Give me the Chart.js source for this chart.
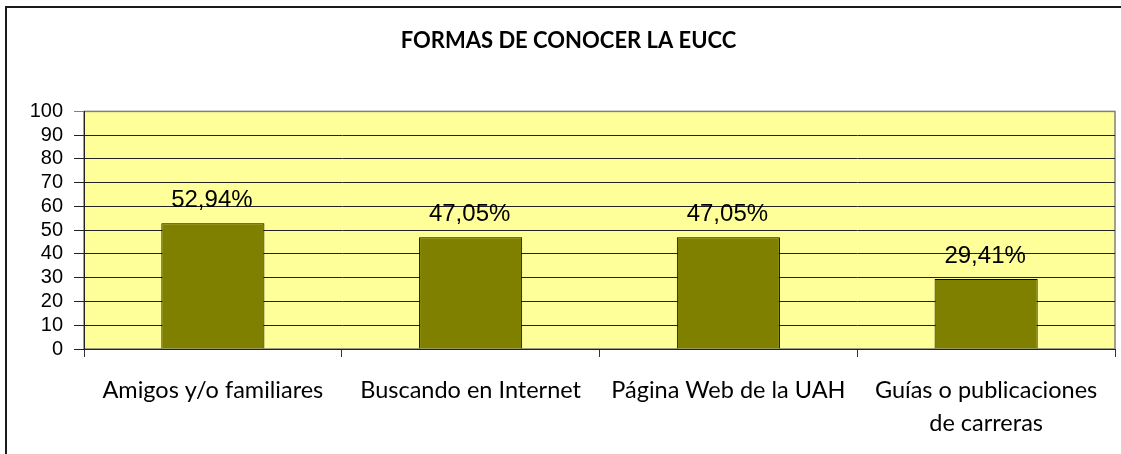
<!DOCTYPE html>
<html>
<head>
<meta charset="utf-8">
<script src="https://cdn.jsdelivr.net/npm/chart.js@4.4.0/dist/chart.umd.min.js"></script>
<style>
    body { margin: 0; overflow: hidden; background: #fff; }
    .linea { position: absolute; background: #1a1a1a; }
    #chart { position: absolute; left: 0; top: 0; }
</style>
</head>
<body>
<div class="linea" style="left:5px; top:6px; width:1200px; height:2px;"></div>
<div class="linea" style="left:5px; top:6px; width:2px; height:600px;"></div>
<canvas id="chart" width="1121" height="454"></canvas>
<script>
var categorias = [
    "Amigos y/o familiares",
    "Buscando en Internet",
    "Página Web de la UAH",
    ["Guías o publicaciones", "de carreras"]
];
var porcentajes = [52.94, 47.05, 47.05, 29.41];
var titulo = "FORMAS DE CONOCER LA EUCC";

// fondo amarillo del area de trazado
var fondoPlot = {
    id: "fondoPlot",
    beforeDraw: function(chart) {
        var a = chart.chartArea;
        var c = chart.ctx;
        c.save();
        c.fillStyle = "#FFFF99";
        c.fillRect(a.left, a.top, a.right - a.left, a.bottom - a.top);
        c.strokeStyle = "#808080";
        c.lineWidth = 1.5;
        c.strokeRect(a.left, a.top, a.right - a.left, a.bottom - a.top);
        c.restore();
    }
};

// etiquetas de valor sobre cada barra
var etiquetas = {
    id: "etiquetas",
    afterDatasetsDraw: function(chart) {
        var c = chart.ctx;
        var meta = chart.getDatasetMeta(0);
        c.save();
        c.font = "24px 'Liberation Sans', Arial, sans-serif";
        c.fillStyle = "#000";
        c.textAlign = "center";
        c.textBaseline = "alphabetic";
        meta.data.forEach(function(bar, i) {
            var txt = porcentajes[i].toFixed(2).replace(".", ",") + "%";
            c.fillText(txt, bar.x - 1, bar.y - 16);
        });
        c.restore();
    }
};

var ctx = document.getElementById("chart").getContext("2d");
var myChart = new Chart(ctx, {
    type: "bar",
    data: {
        labels: categorias,
        datasets: [{
            data: porcentajes,
            backgroundColor: "#808000",
            borderColor: "#000",
            borderWidth: 1,
            barPercentage: 0.4,
            categoryPercentage: 1
        }]
    },
    options: {
        responsive: false,
        animation: false,
        layout: { padding: { left: 22, right: 6, top: 0, bottom: 0 } },
        scales: {
            x: {
                grid: {
                    offset: true,
                    drawOnChartArea: false,
                    drawTicks: true,
                    tickLength: 8,
                    color: "#333"
                },
                border: { color: "#222", width: 1 },
                ticks: {
                    color: "#000",
                    padding: 17,
                    maxRotation: 0,
                    autoSkip: false,
                    font: { family: "Lato", size: 23.5, lineHeight: 1.4 }
                },
                afterFit: function(scale) { scale.height = 105; }
            },
            y: {
                min: 0,
                max: 100,
                grid: {
                    color: function(c) { return c.tick && c.tick.value === 100 ? "#808080" : "#222"; },
                    tickLength: 10,
                    drawTicks: true
                },
                border: { color: "#222", width: 1 },
                ticks: {
                    stepSize: 10,
                    autoSkip: false,
                    color: "#000",
                    padding: 11,
                    font: { family: "'Liberation Sans', Arial", size: 20, lineHeight: 1 }
                },
                afterFit: function(scale) { scale.width = 62; }
            }
        },
        plugins: {
            legend: { display: false },
            tooltip: { enabled: false },
            title: {
                display: true,
                text: titulo,
                color: "#000",
                font: { family: "Lato", size: 22, weight: "bold", lineHeight: 1.2 },
                padding: { top: 28, bottom: 57 }
            }
        }
    },
    plugins: [fondoPlot, etiquetas]
});
</script>
</body>
</html>
